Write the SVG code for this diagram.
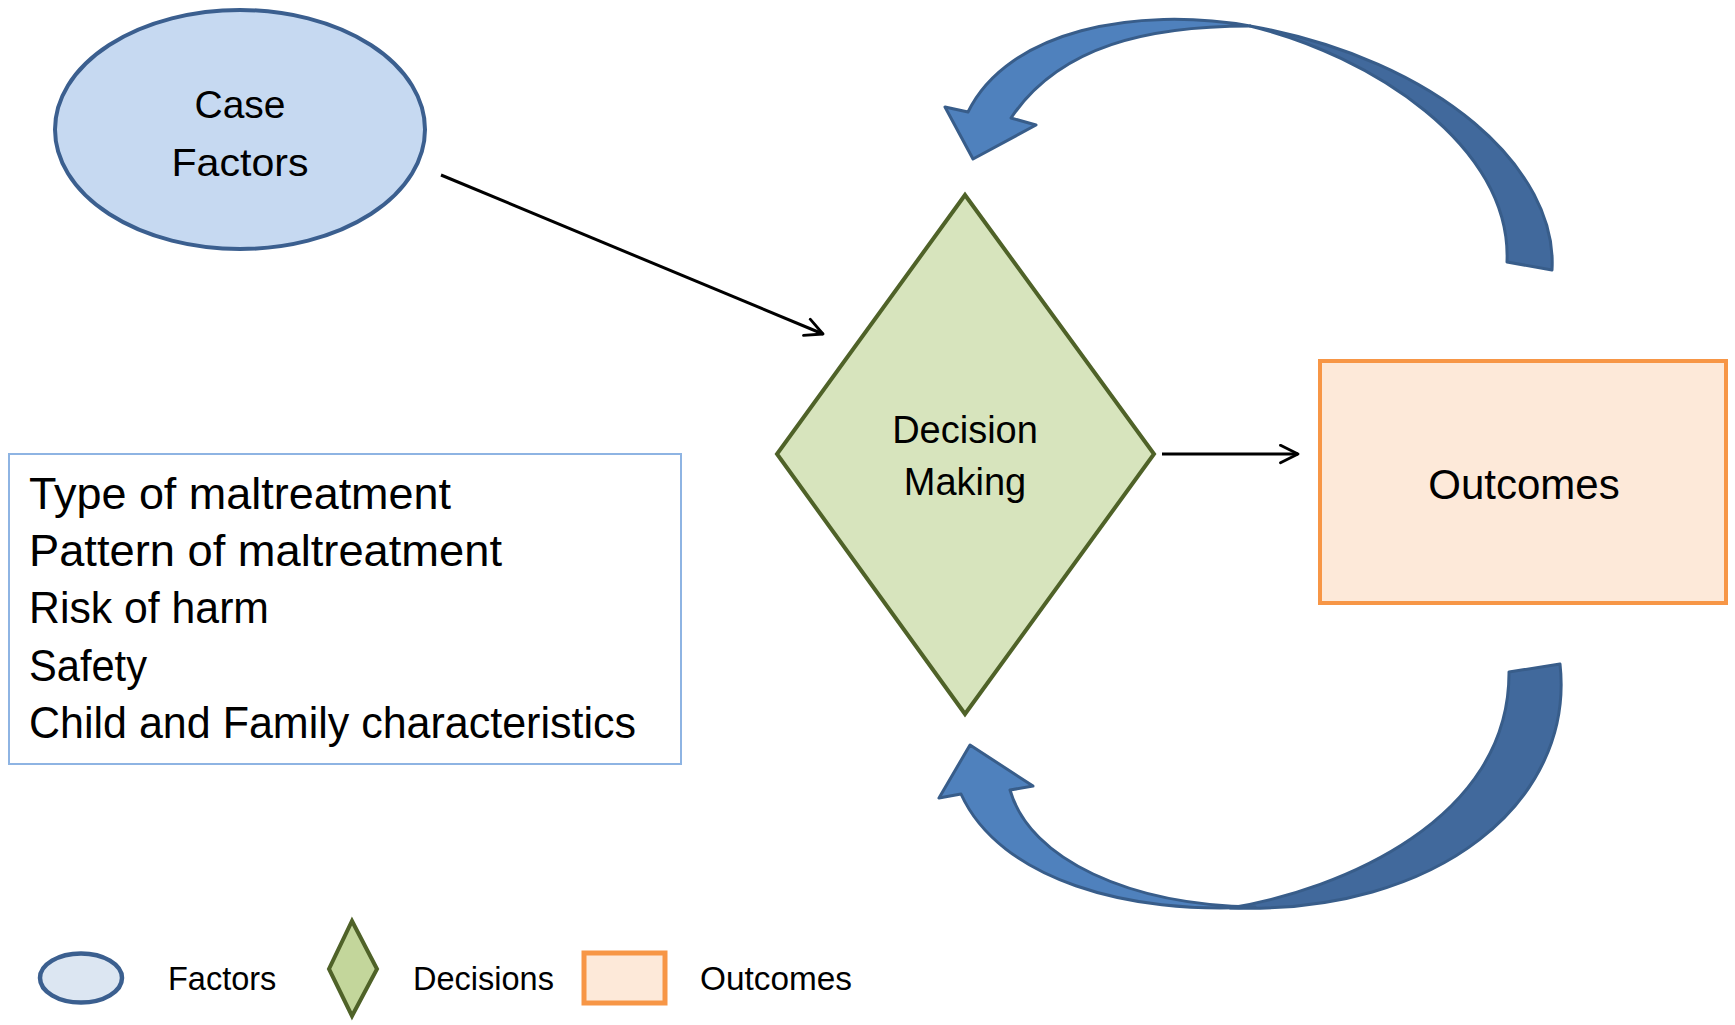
<svg xmlns="http://www.w3.org/2000/svg" width="1735" height="1025" viewBox="0 0 1735 1025">
  <defs>
    <marker id="open" viewBox="0 0 12 12" refX="11" refY="6" markerWidth="7" markerHeight="7" markerUnits="strokeWidth" orient="auto">
      <path d="M1,1 L11,6 L1,11" fill="none" stroke="#000" stroke-width="1.6" stroke-linecap="round" stroke-linejoin="round"/>
    </marker>
  </defs>
  <style>
    text { font-family: "Liberation Sans", Arial, sans-serif; fill: #000; }
    .main { font-size: 39px; text-anchor: middle; }
    .list { font-size: 44px; }
    .leg { font-size: 32.5px; }
    .factor { fill: #c6d9f1; stroke: #3b5f8f; stroke-width: 4; }
    .decision { fill: #d7e4bd; stroke: #4f6228; stroke-width: 4; stroke-linejoin: miter; }
    .outcome { fill: #fde9d9; stroke: #f79646; stroke-width: 4; }
    .conn { stroke: #000; stroke-width: 3; fill: none; marker-end: url(#open); }
    .dark { fill: #41699c; stroke: #385d8a; stroke-width: 3; stroke-linejoin: round; }
    .light { fill: #4f81bd; stroke: #385d8a; stroke-width: 3; stroke-linejoin: round; }
  </style>
  <rect width="1735" height="1025" fill="#fff"/>

  <g id="connectors">
    <line class="conn" x1="441" y1="175" x2="823" y2="334"/>
    <line class="conn" x1="1162" y1="454" x2="1298" y2="454"/>
    <g id="loop-top">
      <path class="dark" d="M1552,270 C1558,170 1440,60 1250,26 C1370,55 1512,145 1507,262 Z"/>
      <path class="light" d="M968,112 C1008,30 1136,6 1250,26 C1150,26 1060,45 1011,118 L1036,125 L973,159 L945,107 Z"/>
    </g>
    <g id="loop-bottom">
      <path class="dark" d="M1560,664 C1575,800 1440,915 1230,908 C1340,890 1510,820 1509,672 Z"/>
      <path class="light" d="M961,794 C1000,880 1130,915 1255,907 C1130,905 1030,860 1010,790 L1033,786 L970,745 L939,798 Z"/>
    </g>
  </g>

  <g id="case-factors">
    <ellipse class="factor" cx="240" cy="129.5" rx="185" ry="119.5"/>
    <text class="main" x="240" y="118">Case</text>
    <text class="main" x="240" y="176" textLength="137" lengthAdjust="spacingAndGlyphs">Factors</text>
  </g>

  <g id="decision-making">
    <polygon class="decision" points="965,195 1154,454 965,714 777,454"/>
    <text class="main" x="965" y="443" style="font-size:38px">Decision</text>
    <text class="main" x="965" y="495" style="font-size:38px">Making</text>
  </g>

  <g id="outcomes">
    <rect class="outcome" x="1320" y="361" width="406" height="242"/>
    <text class="main" x="1524" y="499" style="font-size:42px">Outcomes</text>
  </g>

  <g id="factor-list">
    <rect x="9" y="454" width="672" height="310" fill="#fff" stroke="#8eb4e3" stroke-width="2"/>
    <text class="list" x="29" y="509" textLength="422" lengthAdjust="spacingAndGlyphs">Type of maltreatment</text>
    <text class="list" x="29" y="566" textLength="473" lengthAdjust="spacingAndGlyphs">Pattern of maltreatment</text>
    <text class="list" x="29" y="623" textLength="240" lengthAdjust="spacingAndGlyphs">Risk of harm</text>
    <text class="list" x="29" y="681" textLength="118" lengthAdjust="spacingAndGlyphs">Safety</text>
    <text class="list" x="29" y="738" textLength="607" lengthAdjust="spacingAndGlyphs">Child and Family characteristics</text>
  </g>

  <g id="legend">
    <g id="legend-factors">
      <ellipse cx="81" cy="978" rx="41" ry="24.5" fill="#dce6f2" stroke="#3b5f8f" stroke-width="4.5"/>
      <text class="leg" x="168" y="990">Factors</text>
    </g>
    <g id="legend-decisions">
      <polygon points="352,921 377,969 352,1016 329,969" fill="#c3d69b" stroke="#4f6228" stroke-width="4"/>
      <text class="leg" x="413" y="990">Decisions</text>
    </g>
    <g id="legend-outcomes">
      <rect x="584" y="953" width="81" height="50" fill="#fde9d9" stroke="#f79646" stroke-width="5"/>
      <text class="leg" x="700" y="990" textLength="152" lengthAdjust="spacingAndGlyphs">Outcomes</text>
    </g>
  </g>
</svg>
